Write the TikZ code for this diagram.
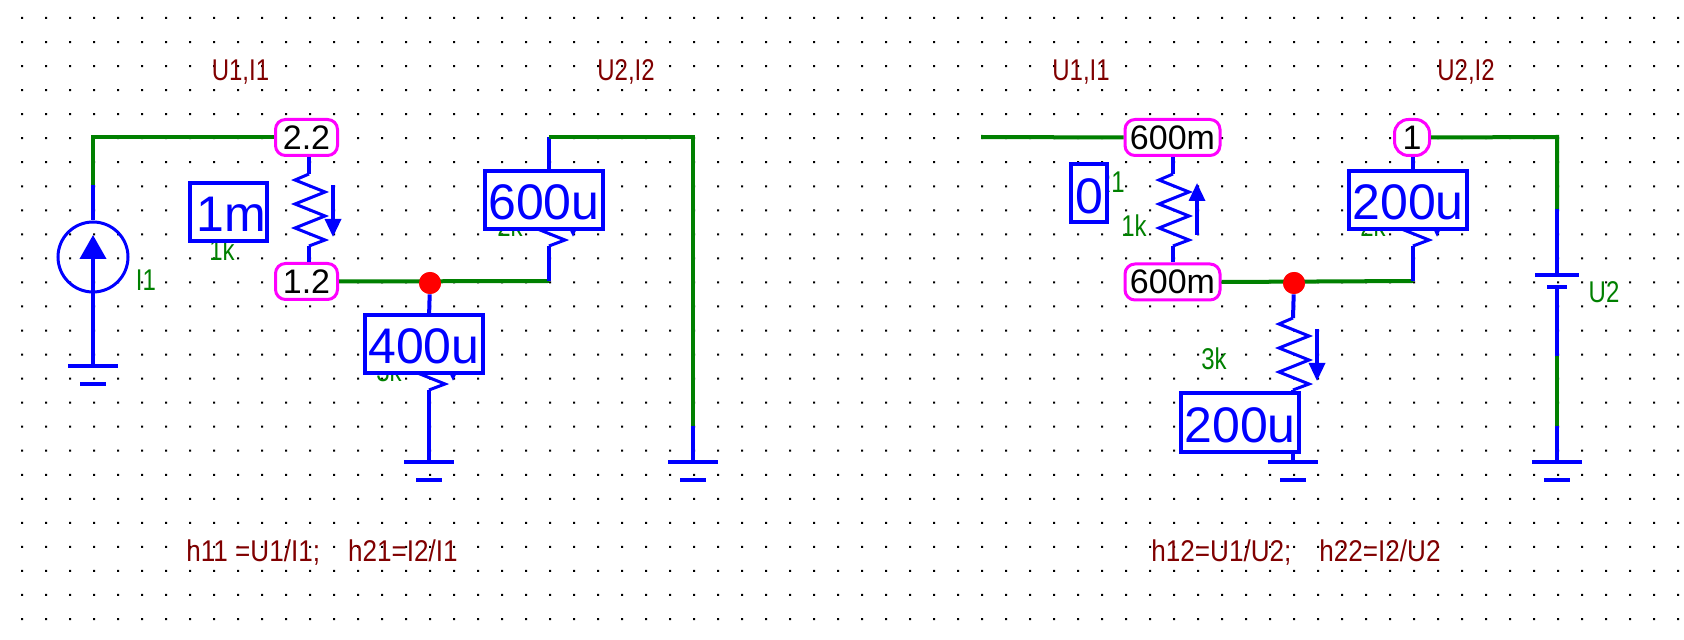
\documentclass[tikz,border=0pt]{standalone}
\usepackage{fontspec}
\setmainfont{Liberation Sans}
\newfontfamily\labfont[FakeStretch=0.8]{Liberation Sans}
\newfontfamily\notefont[FakeStretch=0.87]{Liberation Sans}
\definecolor{meterpink}{RGB}{255,0,255}
\usetikzlibrary{arrows.meta, calc}

\begin{document}
\begin{tikzpicture}[
    x=0.5pt, y=-0.5pt,
    wire/.style={line width=2pt, green!50!black},
    lead/.style={line width=2pt, blue},
    meter/.style={draw=meterpink, fill=white, line width=1.5pt, rounded corners=5pt, minimum height=18pt, minimum width=31pt, inner sep=0pt, font=\fontsize{17}{18}\selectfont},
    ampbox/.style={draw=blue, fill=white, text=blue, line width=2pt, minimum height=29pt, minimum width=59pt, inner sep=0pt, text height=20pt, text depth=0pt, font=\fontsize{25}{26}\selectfont},
    partlabel/.style={anchor=base, inner sep=0pt, text=green!50!black, font=\labfont\fontsize{15}{16}\selectfont},
    notelabel/.style={anchor=base, inner sep=0pt, text=red!50!black, font=\labfont\fontsize{15}{16}\selectfont},
    eqlabel/.style={notelabel, font=\notefont\fontsize{15}{16}\selectfont},
    junction/.style={circle, fill=red, inner sep=0pt, minimum size=11pt},
    source/.style={circle, draw=blue, line width=1.5pt, inner sep=0pt, minimum size=35pt},
    zigline/.style={line width=1.5pt, blue},
    curtip/.style={line width=1.7pt, blue, -{Triangle[length=9pt,width=8pt]}},
    gnd/.pic={
        \draw[lead] (-25,0) -- (25,0);
        \draw[lead] (-13,18) -- (13,18);
    },
    zigdown/.pic={
        \draw[zigline] (0,0) -- (-14,6) -- (16,18) -- (-14,30) -- (16,42) -- (-14,54) -- (16,66) -- (0,72);
        \draw[curtip] (24,11) -- (24,63);
    },
    zigup/.pic={
        \draw[zigline] (0,0) -- (-14,6) -- (16,18) -- (-14,30) -- (16,42) -- (-14,54) -- (16,66) -- (0,72);
        \draw[curtip] (24,61) -- (24,9);
    }
]
    \useasboundingbox (0,0) rectangle (1684,640);

    % grid of the schematic editor
    \fill[black] \foreach \i in {0,...,69} {\foreach \j in {0,...,25} {
        ({21+24*\i},{17+24.04*\j}) rectangle ++(2,2)
    }};

    % texts above and below
    \node[notelabel] (TopA) at (240.5,81) {U1,I1};
    \node[notelabel] (TopB) at (626,81) {U2,I2};
    \node[notelabel] (TopC) at (1081,81) {U1,I1};
    \node[notelabel] (TopD) at (1466,81) {U2,I2};
    \node[eqlabel] (BotA) at (322,561) {h11 =U1/I1;\hspace{14pt}h21=I2/I1};
    \node[eqlabel] (BotB) at (1296,561) {h12=U1/U2;\hspace{14pt}h22=I2/U2};

    % part labels, partly under the ampere boxes
    \node[partlabel] (LabI1) at (146,291) {I1};
    \node[partlabel] (LabRa) at (222,261) {1k};
    \node[partlabel] (LabRb) at (510,237) {2k};
    \node[partlabel] (LabRc) at (389,382) {3k};
    \node[partlabel, anchor=base east] (LabNm) at (1125,193) {R1};
    \node[partlabel] (LabRd) at (1134,237) {1k};
    \node[partlabel] (LabRe) at (1373,237) {2k};
    \node[partlabel] (LabRf) at (1214,370) {3k};
    \node[partlabel] (LabU2) at (1604,303) {U2};

    % left circuit
    \coordinate (SrcTop) at (93,185);
    \coordinate (GndA) at (93,366);
    \coordinate (RaTop) at (309,174);
    \coordinate (RaBot) at (309,246);
    \coordinate (RbIn) at (549,137);
    \coordinate (RbTop) at (549,174);
    \coordinate (RbBot) at (549,246);
    \coordinate (RbEnd) at (549,281);
    \coordinate (RcTop) at (429,318);
    \coordinate (RcBot) at (429,390);
    \coordinate (GndB) at (429,462);
    \coordinate (RailTop) at (693,137);
    \coordinate (RailBot) at (693,426);
    \coordinate (GndC) at (693,462);

    \node[source] (I1) at (93,257) {};
    \coordinate (I1Tip) at (93,235);
    \node[meter] (MA) at (306.5,137.5) {2.2};
    \node[meter] (MB) at (306.5,281.5) {1.2};
    \node[junction] (JuncA) at (430,283) {};

    \draw[wire] (SrcTop) |- (MA.west);
    \draw[lead] (SrcTop) -- (I1);
    \draw[lead, -{Triangle[length=12pt,width=13pt]}] (GndA) -- (I1Tip);
    \pic at (GndA) {gnd};
    \draw[lead] (RaTop |- MA.south) -- (RaTop);
    \pic at (RaTop) {zigdown};
    \draw[lead] (RaBot) -- (RaBot |- MB.north);
    \draw[wire] (MB.east) -- (RbEnd);
    \draw[lead] (RbIn) -- (RbTop);
    \pic at (RbTop) {zigdown};
    \draw[lead] (RbBot) -- (RbEnd);
    \draw[wire] (RbIn) -- (RailTop) -- (RailBot);
    \draw[lead] (RailBot) -- (GndC);
    \pic at (GndC) {gnd};
    \draw[lead] (JuncA) -- (RcTop);
    \pic at (RcTop) {zigdown};
    \draw[lead] (RcBot) -- (GndB);
    \pic at (GndB) {gnd};
    \node[junction] at (JuncA) {};

    \node[ampbox, minimum width=38.5pt] (AmpA) at (228.5,212) {\kern3pt 1m};
    \node[ampbox] (AmpB) at (544,200) {600u};
    \node[ampbox] (AmpC) at (424,344) {400u};

    % right circuit
    \coordinate (InC) at (981,137);
    \coordinate (RdTop) at (1173,174);
    \coordinate (RdBot) at (1173,246);
    \coordinate (ReTop) at (1413,174);
    \coordinate (ReBot) at (1413,246);
    \coordinate (ReEnd) at (1413,281);
    \coordinate (RfTop) at (1293,318);
    \coordinate (RfBot) at (1293,390);
    \coordinate (GndD) at (1293,462);
    \coordinate (BatCor) at (1557,137);
    \coordinate (BatTop) at (1557,209);
    \coordinate (BatPlus) at (1557,275);
    \coordinate (BatMinus) at (1557,287);
    \coordinate (BatLow) at (1557,356);
    \coordinate (BatEnd) at (1557,426);
    \coordinate (GndE) at (1557,462);

    \node[meter, minimum width=47.5pt] (MC) at (1172.5,137.5) {600m};
    \node[meter, minimum width=47.5pt] (MD) at (1172.5,282) {600m};
    \node[meter, minimum width=17.5pt, rounded corners=7pt] (ME) at (1412,137.5) {1};
    \node[junction] (JuncB) at (1294,283) {};

    \draw[wire] (InC) -- (MC.west);
    \draw[lead] (RdTop |- MC.south) -- (RdTop);
    \pic at (RdTop) {zigup};
    \draw[lead] (RdBot) -- (RdBot |- MD.north);
    \draw[wire] (MD.east) -- (ReEnd);
    \draw[lead] (ReTop |- ME.south) -- (ReTop);
    \pic at (ReTop) {zigdown};
    \draw[lead] (ReBot) -- (ReEnd);
    \draw[lead] (JuncB) -- (RfTop);
    \pic at (RfTop) {zigdown};
    \draw[lead] (RfBot) -- (GndD);
    \pic at (GndD) {gnd};
    \node[junction] at (JuncB) {};

    \draw[wire] (ME.east) -- (BatCor) -- (BatTop);
    \draw[lead] (BatTop) -- (BatPlus);
    \draw[lead] ($(BatPlus)+(-22,0)$) -- ($(BatPlus)+(22,0)$);
    \draw[lead] ($(BatMinus)+(-10,0)$) -- ($(BatMinus)+(10,0)$);
    \draw[lead] (BatMinus) -- (BatLow);
    \draw[wire] (BatLow) -- (BatEnd);
    \draw[lead] (BatEnd) -- (GndE);
    \pic at (GndE) {gnd};

    \node[ampbox, minimum width=18pt] (AmpD) at (1089,193.5) {0};
    \node[ampbox] (AmpE) at (1408,200) {200u};
    \node[ampbox] (AmpF) at (1240,422.5) {200u};

\end{tikzpicture}
\end{document}
